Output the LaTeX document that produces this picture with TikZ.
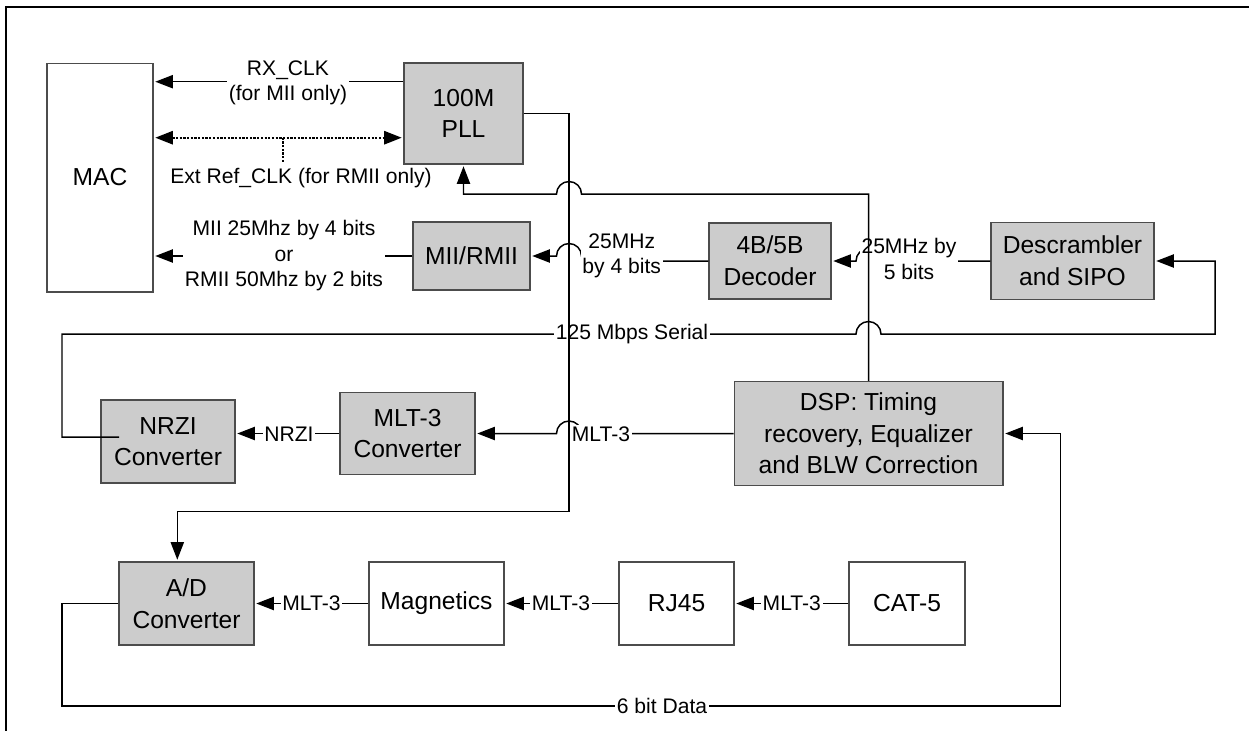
\documentclass[tikz,border=0pt]{standalone}
\usepackage{fontspec}
\setmainfont{Liberation Sans}
\usetikzlibrary{arrows.meta}
\begin{document}
\begin{tikzpicture}[x=0.02cm,y=-0.02cm,
  blk/.style={draw=black!70, line width=0.6pt, fill=black!20, align=center,
    font=\fontsize{14}{18}\selectfont, inner sep=0pt},
  wblk/.style={blk, fill=white},
  lbl/.style={fill=white, inner sep=1pt, align=center, font=\fontsize{12}{14.5}\selectfont},
  ln/.style={line width=0.85pt},
  arr/.style={ln, -{Triangle[length=10pt,width=7.5pt]}, shorten >=1pt},
  dotln/.style={ln, line width=1.3pt, dash pattern=on 1.3pt off 0.8pt}]
\useasboundingbox (0,0) rectangle (1249,731);
% frame
\draw[line width=1.4pt] (6,731) -- (6,7) -- (1249,7);

% blocks
\node[wblk, minimum width=2.12cm, minimum height=4.58cm] (mac) at (100,177.5) {MAC};
\node[blk, minimum width=2.38cm, minimum height=2.02cm] (pll) at (463.5,113.5) {100M\\PLL};
\node[blk, minimum width=2.34cm, minimum height=1.36cm] (mii) at (471.5,256) {MII/RMII};
\node[blk, minimum width=2.44cm, minimum height=1.52cm] (dec) at (770,261) {4B/5B\\Decoder};
\node[blk, minimum width=3.26cm, minimum height=1.54cm] (descr) at (1072.5,261) {Descrambler\\and SIPO};
\node[blk, minimum width=2.68cm, minimum height=1.66cm] (nrzi) at (168,441.5) {NRZI\\Converter};
\node[blk, minimum width=2.70cm, minimum height=1.64cm] (mltc) at (407.5,433.5) {MLT-3\\Converter};
\node[blk, minimum width=5.38cm, minimum height=2.08cm] (dsp) at (868.5,433.5) {DSP: Timing\\recovery, Equalizer\\and BLW Correction};
\node[blk, minimum width=2.70cm, minimum height=1.66cm] (ad) at (186.5,603.5) {A/D\\Converter};
\node[wblk, minimum width=2.70cm, minimum height=1.66cm] (mag) at (436.5,603.5) {Magnetics};
\node[wblk, minimum width=2.30cm, minimum height=1.66cm] (rj) at (676.5,603.5) {RJ45};
\node[wblk, minimum width=2.32cm, minimum height=1.66cm] (cat) at (907,603.5) {CAT-5};

% helper coordinates
\coordinate (rxy) at (0,81.7);
\coordinate (doty) at (0,137.7);
\coordinate (stubtop) at (283,137.7);
\coordinate (stubbot) at (283,161.7);
\coordinate (nzin) at (119,437);
\coordinate (adx) at (177.3,0);

% RX_CLK
\draw[arr] (pll.west |- rxy) -- (mac.east |- rxy);
% Ext Ref_CLK
\draw[dotln, {Triangle[length=10pt,width=7.5pt]}-{Triangle[length=10pt,width=7.5pt]}, shorten >=1pt, shorten <=1pt]
  (mac.east |- doty) -- (pll.west |- doty);
\draw[dotln] (stubtop) -- (stubbot);

% MII/RMII -> MAC
\draw[arr] (mii.west) -- (mac.east |- mii.west);
% Decoder -> MII
\draw[arr] (dec.west) -- (600,261) -- (600,256) -- (581.5,256)
  arc[start angle=0,end angle=180,radius=0.25cm] -- (mii.east);
% Descrambler -> Decoder
\draw[arr] (descr.west) -- (881,261)
  arc[start angle=0,end angle=180,radius=0.25cm] -- (dec.east);
% NRZI -> Descrambler (125 Mbps Serial)
\draw[arr] (nzin) -- (62,437) -- (62,334) -- (856,334)
  arc[start angle=180,end angle=0,radius=0.25cm] -- (1215,334) -- (1215,261) -- (descr.east);
% DSP -> MLT-3 converter
\draw[arr] (dsp.west) -- (581.5,433.5)
  arc[start angle=0,end angle=180,radius=0.25cm] -- (mltc.east);
% MLT-3 converter -> NRZI
\draw[arr] (mltc.west) -- (nrzi.east |- mltc.west);
% bottom chain
\draw[arr] (cat.west) -- (rj.east);
\draw[arr] (rj.west) -- (mag.east);
\draw[arr] (mag.west) -- (ad.east);
% 6 bit data
\draw[arr] (ad.west) -- (62,603.5) -- (62,706) -- (1060.7,706) -- (1060.7,433.5) -- (dsp.east);

% labels
\node[lbl] (rxl) at (288,83) {RX\_CLK\\(for MII only)};
\node[lbl, anchor=north] (extl) at (301,166) {Ext Ref\_CLK (for RMII only)};
\node[lbl] (miil) at (284,256) {MII 25Mhz by 4 bits\\or\\RMII 50Mhz by 2 bits};
\node[lbl] (l4) at (621.7,256) {25MHz\\by 4 bits};
\node[lbl] (l5) at (909,259) {25MHz by\\5 bits};
\node[lbl] (ser) at (632,334) {125 Mbps Serial};
\node[lbl] (nrzil) at (289,434) {NRZI};
\node[lbl] (mltl) at (601,434) {MLT-3};
\node[lbl] (m1) at (311.5,603.5) {MLT-3};
\node[lbl] (m2) at (561,603.5) {MLT-3};
\node[lbl] (m3) at (791.8,603.5) {MLT-3};
\node[lbl] (datal) at (662,706) {6 bit Data};

% PLL output -> A/D
\draw[arr] (pll.east) -- (569,113.5) -- (569,511.7) -- (177.3,511.7) -- (ad.north -| adx);
% DSP -> PLL
\draw[arr] (dsp.north) -- (868.5,194) -- (581.5,194)
  arc[start angle=0,end angle=180,radius=0.25cm] -- (463.5,194) -- (pll.south);
\end{tikzpicture}
\end{document}
